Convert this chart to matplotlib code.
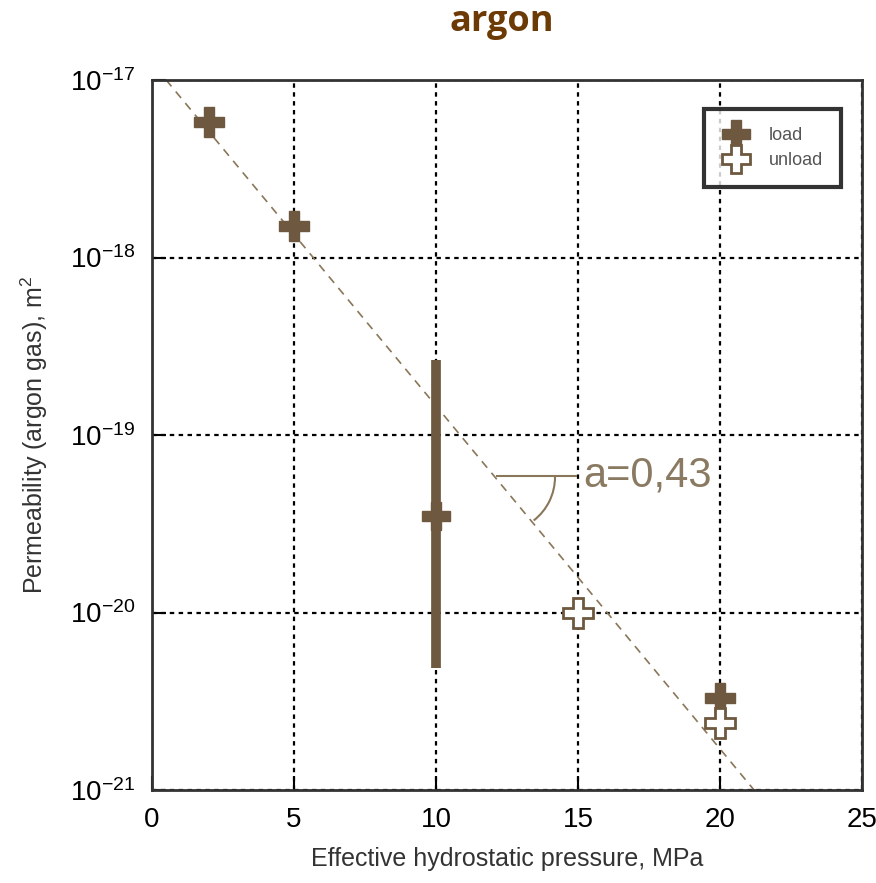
import matplotlib
matplotlib.use("Agg")
import matplotlib.pyplot as plt
from matplotlib.patches import Arc
from matplotlib.ticker import FixedLocator, NullLocator, FuncFormatter
import numpy as np

plt.rcParams['font.family'] = ['Liberation Sans', 'DejaVu Sans']

BROWN = '#6e583f'
LINE_BROWN = '#8a7658'

load_x = [2, 5, 20]
load_k = [5.8e-18, 1.5e-18, 3.3e-21]
unload_x = [15, 20]
unload_k = [1.0e-20, 2.4e-21]

# x = 10 MPa point with its spread
err_x = 10
err_k = 3.5e-20
err_low = 4.9e-21
err_high = 2.65e-19

# dashed trend line end points
trend_x = [0.5, 21.2]
trend_k = [1.0e-17, 1.0e-21]

fig = plt.figure(figsize=(8.76, 8.83), dpi=100)
ax = fig.add_axes([0.1735, 0.1053, 0.8105, 0.8041])
ax.set_yscale('log')
ax.set_xlim(0, 25)
ax.set_ylim(1e-21, 1e-17)

ax.grid(True, which='major', color='black', linestyle=(0, (2, 2)), linewidth=1.6)
ax.set_axisbelow(True)

ax.plot(trend_x, trend_k, color=LINE_BROWN, linestyle=(0, (5, 4)), linewidth=1.2, zorder=2)

ax.vlines(err_x, err_low, err_high, color=BROWN, linewidth=7, zorder=3)
ax.plot([err_x], [err_k], marker='P', markersize=20, color=BROWN, linestyle='none', zorder=4)

ax.plot(load_x, load_k, marker='P', markersize=22, color=BROWN, markeredgecolor=BROWN,
        linestyle='none', label='load', zorder=4)
ax.plot(unload_x, unload_k, marker='P', markersize=22, markerfacecolor='white',
        markeredgecolor=BROWN, markeredgewidth=2, linestyle='none', label='unload', zorder=4)

# slope annotation
ax.plot([12.15, 14.93], [10 ** -19.23, 10 ** -19.23], color=LINE_BROWN, linewidth=1.5, zorder=3)
arc = Arc((500 / 876, 1 - 477 / 883), 110 / 876, 110 / 883, angle=0, theta1=308, theta2=360,
          transform=fig.transFigure, color=LINE_BROWN, linewidth=1.5)
fig.patches.append(arc)
ax.text(15.2, 10 ** -19.23, 'a=0,43', fontsize=30, color='#8a7a62', va='center', ha='left', zorder=5)

ax.yaxis.set_major_locator(FixedLocator([1e-21, 1e-20, 1e-19, 1e-18, 1e-17]))
ax.yaxis.set_minor_locator(NullLocator())
ax.yaxis.set_major_formatter(FuncFormatter(lambda v, p: r'$\mathregular{10^{%d}}$' % round(np.log10(v))))
ax.set_xticks([0, 5, 10, 15, 20, 25])
ax.tick_params(axis='both', direction='in', length=10, width=1.5, labelsize=20, pad=12)
for s in ax.spines.values():
    s.set_linewidth(2)
    s.set_color('#333333')

ax.set_xlabel('Effective hydrostatic pressure, MPa', fontsize=18, color='#333333', labelpad=10)
ax.set_ylabel(r'Permeability (argon gas), m$^\mathregular{2}$', fontsize=18, color='#333333', labelpad=14)

leg = ax.legend(loc='upper right', bbox_to_anchor=(0.983, 0.972), fontsize=13, frameon=True,
                fancybox=False, edgecolor='black', markerscale=0.9, handletextpad=1.0,
                borderpad=1.0, labelspacing=0.45, handlelength=1.6)
leg.get_frame().set_linewidth(3)
for t in leg.get_texts():
    t.set_color('#555555')

fig.text(0.573, 0.975, 'argon', fontsize=26, fontweight='bold', color='#6b3a05',
         ha='center', va='center', family=['Open Sans', 'DejaVu Sans'])

fig.savefig('out.png', dpi=100)
